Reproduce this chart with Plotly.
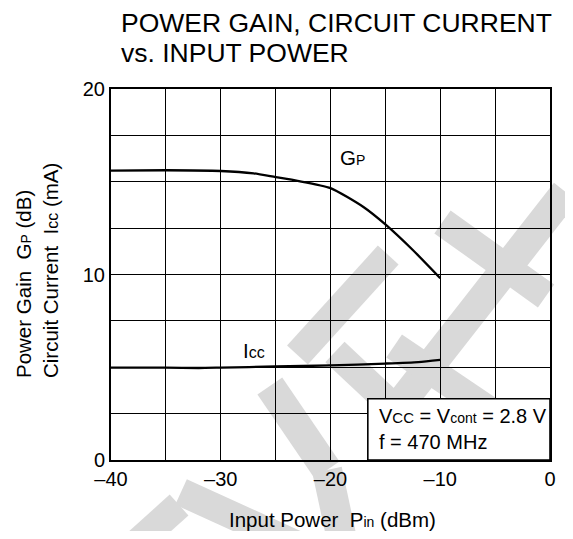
import plotly.graph_objects as go

# ---- data ----
pin_gp = [-40, -35, -30, -27, -25, -23, -20, -17, -15, -12.5, -10]
gp_db = [15.6, 15.62, 15.58, 15.45, 15.25, 15.05, 14.66, 13.64, 12.7, 11.32, 9.8]

pin_icc = [-40, -35, -32, -30, -25, -20, -15, -12, -10]
icc_ma = [4.98, 4.98, 4.96, 4.98, 5.04, 5.1, 5.2, 5.28, 5.4]

x_tickvals = [-40, -35, -30, -25, -20, -15, -10, -5, 0]
x_ticktext = ["–40", "", "–30", "", "–20", "", "–10", "", "0"]
y_tickvals = [0, 2.5, 5, 7.5, 10, 12.5, 15, 17.5, 20]
y_ticktext = ["0", "", "", "", "10", "", "", "", "20"]

FONT = "Liberation Sans, Arial, Helvetica, sans-serif"
# page has an 8px body margin, so the figure is sized to fit the 573x539 window
OFF = 8
W, H = 557, 523
PL, PR, PT, PB = 111, 556, 89, 460  # plot area in page pixels
ML, MT = PL - OFF, PT - OFF
MR = W - ML - (PR - PL)
MB = H - MT - (PB - PT)
PW, PH = PR - PL, PB - PT


def px(xp, yp):
    return (xp - PL) / PW, (PB - yp) / PH


fig = go.Figure()
fig.add_trace(go.Scatter(x=pin_gp, y=gp_db, mode="lines",
                         line=dict(color="black", width=2.3, shape="spline", smoothing=0.6), showlegend=False))
fig.add_trace(go.Scatter(x=pin_icc, y=icc_ma, mode="lines",
                         line=dict(color="black", width=2.3, shape="spline", smoothing=0.6), showlegend=False))

shapes = []
# watermark bands (decoration)
wm = [
    ((572, 192), (385, 428), 30),
    ((447, 222), (552, 296), 28),
    ((392, 255), (300, 355), 28),
    ((338, 352), (392, 402), 28),
    ((398, 346), (500, 414), 28),
    ((272, 386), (330, 470), 30),
    ((330, 470), (345, 539), 30),
    ((182, 492), (300, 545), 28),
    ((135, 545), (180, 505), 28),
]
for (a, b, w) in wm:
    x0, y0 = px(*a)
    x1, y1 = px(*b)
    shapes.append(dict(type="line", xref="paper", yref="paper", x0=x0, y0=y0, x1=x1, y1=y1,
                       line=dict(color="#d9d9d9", width=w), layer="below"))
# condition box
shapes.append(dict(type="rect", xref="x", yref="y", x0=-16.6, x1=0, y0=0, y1=3.3,
                   line=dict(color="black", width=1.6), fillcolor="white", layer="between"))
fig.update_layout(shapes=shapes)

ann = []
ann.append(dict(text="POWER GAIN, CIRCUIT CURRENT", xref="paper", yref="paper",
                x=px(119, 0)[0], y=px(0, 23)[1], xanchor="left", yanchor="middle",
                showarrow=False, font=dict(size=26.5, family=FONT, color="black")))
ann.append(dict(text="vs. INPUT POWER", xref="paper", yref="paper",
                x=px(119, 0)[0], y=px(0, 53)[1], xanchor="left", yanchor="middle",
                showarrow=False, font=dict(size=26.5, family=FONT, color="black")))
ann.append(dict(text="Input Power  P<span style='font-size:14px'>in</span> (dBm)", xref="paper", yref="paper",
                x=px(336, 0)[0], y=px(0, 519)[1], xanchor="center", yanchor="middle",
                showarrow=False, font=dict(size=20.5, family=FONT, color="black")))
ann.append(dict(text="Power Gain  G<span style='font-size:14px'>P</span> (dB)<br>Circuit Current  I<span style='font-size:16px'>cc</span> (mA)",
                xref="paper", yref="paper", x=px(36, 0)[0], y=px(0, 271)[1], xanchor="center", yanchor="middle",
                textangle=-90, align="left", showarrow=False, font=dict(size=20.5, family=FONT, color="black")))
ann.append(dict(text="G<span style='font-size:14px'>P</span>", xref="x", yref="y", x=-18.0, y=16.3,
                xanchor="center", yanchor="middle", showarrow=False, font=dict(size=20.5, family=FONT, color="black")))
ann.append(dict(text="I<span style='font-size:16px'>cc</span>", xref="x", yref="y", x=-27.0, y=5.88,
                xanchor="center", yanchor="middle", showarrow=False, font=dict(size=20.5, family=FONT, color="black")))
ann.append(dict(text="V<span style='font-size:15px'>CC</span> = V<span style='font-size:14px'>cont</span> = 2.8 V<br>f = 470 MHz",
                xref="x", yref="y", x=-15.8, y=1.65, xanchor="left", yanchor="middle", align="left",
                showarrow=False, font=dict(size=20, family=FONT, color="black")))
fig.update_layout(annotations=ann)

fig.update_xaxes(range=[-40, 0], tickvals=x_tickvals, ticktext=x_ticktext, showgrid=True, gridcolor="black",
                 gridwidth=1.3, showline=True, linecolor="black", linewidth=2, mirror=True, ticks="",
                 zeroline=False, tickfont=dict(size=20, family=FONT, color="black"))
fig.update_yaxes(range=[0, 20], tickvals=y_tickvals, ticktext=y_ticktext, showgrid=True, gridcolor="black",
                 gridwidth=1.3, showline=True, linecolor="black", linewidth=2, mirror=True, ticks="",
                 zeroline=False, tickfont=dict(size=20, family=FONT, color="black"))

fig.update_layout(width=W, height=H, margin=dict(l=ML, r=MR, t=MT, b=MB, pad=0),
                  plot_bgcolor="rgba(0,0,0,0)", paper_bgcolor="white", font=dict(family=FONT, color="black"))
fig.write_html("out.html")
